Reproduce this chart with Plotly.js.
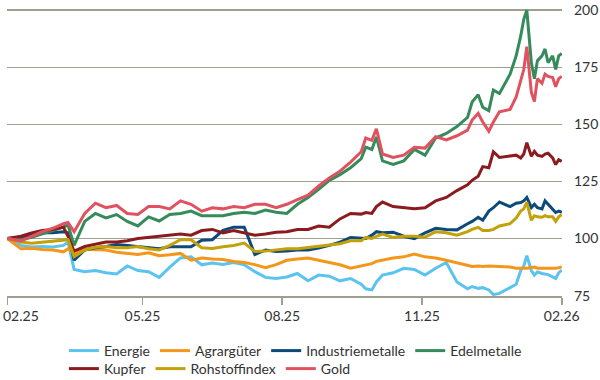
<!DOCTYPE html>
<html>
<head>
<meta charset="utf-8">
<script src="https://cdn.plot.ly/plotly-3.0.1.min.js"></script>
<style>
  html, body { margin: 0; padding: 0; background: #ffffff; }
  #chart { width: 600px; height: 380px; }
</style>
</head>
<body>
<div id="chart"></div>
<script>
// ---- Data (index, 02.2025 = 100) ----
const dates = [
  "2025-02-01","2025-02-10","2025-02-17","2025-02-24","2025-03-03","2025-03-10","2025-03-13","2025-03-17",
  "2025-03-24","2025-03-31","2025-04-07","2025-04-14","2025-04-21","2025-04-28","2025-05-05","2025-05-12",
  "2025-05-19","2025-05-26","2025-06-02","2025-06-09","2025-06-16","2025-06-23","2025-06-30","2025-07-07",
  "2025-07-14","2025-07-21","2025-07-28","2025-08-04","2025-08-11","2025-08-18","2025-08-25","2025-09-01",
  "2025-09-08","2025-09-15","2025-09-22","2025-09-25","2025-09-29","2025-10-02","2025-10-06","2025-10-13",
  "2025-10-20","2025-10-27","2025-11-03","2025-11-10","2025-11-17","2025-11-24","2025-12-01","2025-12-04",
  "2025-12-08","2025-12-11","2025-12-15","2025-12-18","2025-12-22","2025-12-29","2026-01-02","2026-01-05",
  "2026-01-07","2026-01-09","2026-01-12","2026-01-14","2026-01-16","2026-01-19","2026-01-21","2026-01-23",
  "2026-01-26","2026-01-28","2026-01-30","2026-02-01"
];

const energie = [
  100, 97, 96.3, 96.5, 96.3, 97, 98.5, 86.5,
  85.5, 86, 85, 84.5, 88, 86, 85.5, 83,
  87.5, 91.5, 92, 88.5, 89.3, 88.6, 89.5, 88.5,
  85.5, 83, 82.5, 83.2, 84.7, 81.5, 84, 83.5,
  81.5, 82.5, 80, 78, 77.5, 81, 84, 85,
  87, 86.5, 84, 87, 89.5, 81, 78, 79,
  78.2, 78.5, 77.5, 75.5, 76, 78.5, 80, 86,
  88, 92.5, 86, 84, 85.4, 84.7, 84.5, 84.2,
  83.2, 82.5, 85, 86.2
];

const agrargueter = [
  100, 95.5, 95.8, 95.2, 95, 94.2, 95.5, 93.5,
  95.3, 95, 95, 94, 93.5, 93, 93.8, 92.5,
  92.9, 93.5, 90.5, 91.5, 91, 90.8, 90, 89.5,
  88.6, 87.2, 88.6, 90.5, 91, 91.5, 90.5, 89.5,
  88.5, 87, 88, 88.5, 89, 90, 90.5, 91.5,
  92, 93.2, 92, 91.5, 90.5, 89.5, 88.3, 87.8,
  88, 87.8, 88, 88, 87.8, 87.5, 87, 87,
  86.9, 87, 87.3, 87.5, 87, 87, 86.8, 87,
  87, 87, 87.2, 87.6
];

const industriemetalle = [
  100, 100.5, 101.5, 102.5, 102.5, 103, 102.5, 90.5,
  95, 96, 96.5, 97.4, 97, 96.5, 96, 95.5,
  96.4, 96.5, 96.4, 99.3, 99.5, 103.6, 105, 105,
  93, 95, 94.3, 94.5, 95, 95, 95.8, 97,
  98.4, 100.5, 100, 100, 101.5, 103, 102.5, 102.8,
  101, 100, 102.5, 104.5, 104, 103.8, 106.5, 107.5,
  109.3, 108, 112, 113.5, 116, 114, 115.5, 115.8,
  116.5, 118, 113.6, 115, 113.5, 113, 116.5, 115,
  112.5, 111.4, 112, 111.5
];

const edelmetalle = [
  100, 99.5, 100.5, 102, 103.5, 105, 106, 97,
  107.5, 111, 109, 110.5, 107.5, 105.5, 109.5, 107.7,
  110.5, 111, 112, 110, 110, 110, 111, 111.5,
  111, 112.5, 111.5, 111, 115, 118, 121.5, 125.5,
  128, 131, 135, 140, 139, 144.5, 134, 132.5,
  134, 139, 136.5, 144, 146, 149, 153, 159.8,
  163, 157.5, 156, 165, 163.5, 172, 180, 188.7,
  196, 200, 177, 170, 177.9, 180, 183, 177,
  180, 174, 180, 181
];

const kupfer = [
  100, 101, 102.5, 103.5, 104, 105, 101, 94.5,
  96.5, 97.5, 98.5, 98.5, 99, 100, 100.5, 100.7,
  101.5, 102, 101.5, 103.5, 104, 102.5, 103.5, 102.5,
  101.5, 102, 102.8, 103, 104, 104, 105.5, 105,
  108.6, 111, 110.7, 111.4, 111, 114, 116, 114,
  113.6, 113, 113.5, 116.5, 118, 121, 123.5, 125.5,
  127.3, 131.5, 131, 138, 135.5, 136, 136.5, 135.3,
  137, 142, 136, 138.2, 136.5, 136, 137, 137.4,
  135.3, 132.4, 134.5, 133.8
];

const rohstoffindex = [
  100, 98.5, 98, 98.5, 99, 99.5, 99.5, 92,
  95, 96.2, 96.5, 96, 96, 96.5, 95.5, 95,
  97, 99.5, 99.5, 96, 95.7, 96.4, 97, 98,
  94.3, 94.5, 95, 95.5, 95.5, 96, 96.5, 97,
  97.7, 99, 99, 100.5, 100, 101, 102, 100.5,
  101, 101, 100.6, 103, 102.5, 101.5, 103, 104,
  104.9, 103.5, 103.5, 104, 105.5, 106.5, 109, 112,
  113, 115.8, 108, 110, 109.5, 109.3, 110, 109.5,
  109.5, 107.5, 109.5, 110.5
];

const gold = [
  100, 99, 101, 103, 104.5, 106.5, 107, 103,
  111, 115.5, 113.5, 114.5, 111, 110.5, 114, 114,
  113, 116.5, 115, 112, 113.5, 113, 114, 113.5,
  115, 115, 113.5, 115, 117, 119, 123, 126.5,
  129.5, 133.5, 138, 144, 143, 148, 137, 135.5,
  136.5, 140, 139.6, 144.6, 143.2, 145, 147.5, 151.9,
  154.8, 151, 147, 151, 155.5, 156.5, 162, 170,
  174, 184, 164, 160, 170, 168, 172, 171,
  170.5, 166.5, 170, 171
];

const seriesNames = ["Energie", "Agrargüter", "Industriemetalle", "Edelmetalle", "Kupfer", "Rohstoffindex", "Gold"];
const seriesValues = [energie, agrargueter, industriemetalle, edelmetalle, kupfer, rohstoffindex, gold];

const tickDates = ["2025-02-01", "2025-05-01", "2025-08-01", "2025-11-01", "2026-02-01"];
const tickLabels = ["02.25", "05.25", "08.25", "11.25", "02.26"];
const yTicks = [75, 100, 125, 150, 175, 200];

// ---- Styles ----
const colors = ["#5bc3f0", "#f4961a", "#0d4a7a", "#368b5b", "#8c1b1f", "#c2a10a", "#e0525f"];
const legendOf = ["legend", "legend", "legend", "legend", "legend2", "legend2", "legend2"];
const fontFamily = "Lato, 'Noto Sans', sans-serif";
const gridColor = "#a09e8e";
const textColor = "#333333";

const traces = seriesNames.map((name, i) => ({
  type: "scatter",
  mode: "lines",
  name: name,
  x: dates,
  y: seriesValues[i],
  legend: legendOf[i],
  line: { color: colors[i], width: 3 },
  hoverinfo: "skip"
}));

const legendBase = {
  orientation: "h",
  xref: "container",
  yref: "container",
  x: 0.1065,
  xanchor: "left",
  yanchor: "top",
  font: { family: fontFamily, size: 14, color: textColor },
  itemwidth: 30,
  bgcolor: "rgba(0,0,0,0)",
  borderwidth: 0
};

// first x tick label is kept inside the page (as in the reference), others centred on ticks
const xTickText = tickLabels.map((t, i) => (i === 0 ? "" : t));

const layout = {
  width: 600,
  height: 380,
  paper_bgcolor: "#ffffff",
  plot_bgcolor: "#ffffff",
  margin: { l: 7, r: 38, t: 9, b: 84 },
  font: { family: fontFamily, size: 14, color: textColor },
  showlegend: true,
  legend: Object.assign({}, legendBase, { y: 1 - 335 / 380 }),
  legend2: Object.assign({}, legendBase, { y: 1 - 353 / 380 }),
  xaxis: {
    type: "date",
    range: ["2025-01-31 20:00", "2026-02-01 04:00"],
    tickmode: "array",
    tickvals: tickDates,
    ticktext: xTickText,
    showgrid: false,
    zeroline: false,
    showline: true,
    linecolor: gridColor,
    linewidth: 1.5,
    ticks: "outside",
    ticklen: 7,
    tickwidth: 1.5,
    tickcolor: gridColor,
    ticklabeloverflow: "allow",
    tickfont: { family: fontFamily, size: 14, color: textColor },
    fixedrange: true
  },
  yaxis: {
    side: "right",
    range: [74.85, 200.5],
    tickmode: "array",
    tickvals: yTicks,
    ticktext: yTicks.map(String),
    showgrid: true,
    gridcolor: gridColor,
    gridwidth: 1.5,
    zeroline: false,
    showline: false,
    ticks: "",
    ticklabelstandoff: 11,
    ticklabeloverflow: "allow",
    tickfont: { family: fontFamily, size: 14, color: textColor },
    fixedrange: true
  },
  annotations: [{
    text: tickLabels[0],
    xref: "x",
    x: tickDates[0],
    xanchor: "left",
    xshift: -6,
    yref: "paper",
    y: 0,
    yanchor: "top",
    yshift: -9,
    showarrow: false,
    font: { family: fontFamily, size: 14, color: textColor }
  }]
};

Plotly.newPlot("chart", traces, layout, { staticPlot: true, displayModeBar: false });
</script>
</body>
</html>
